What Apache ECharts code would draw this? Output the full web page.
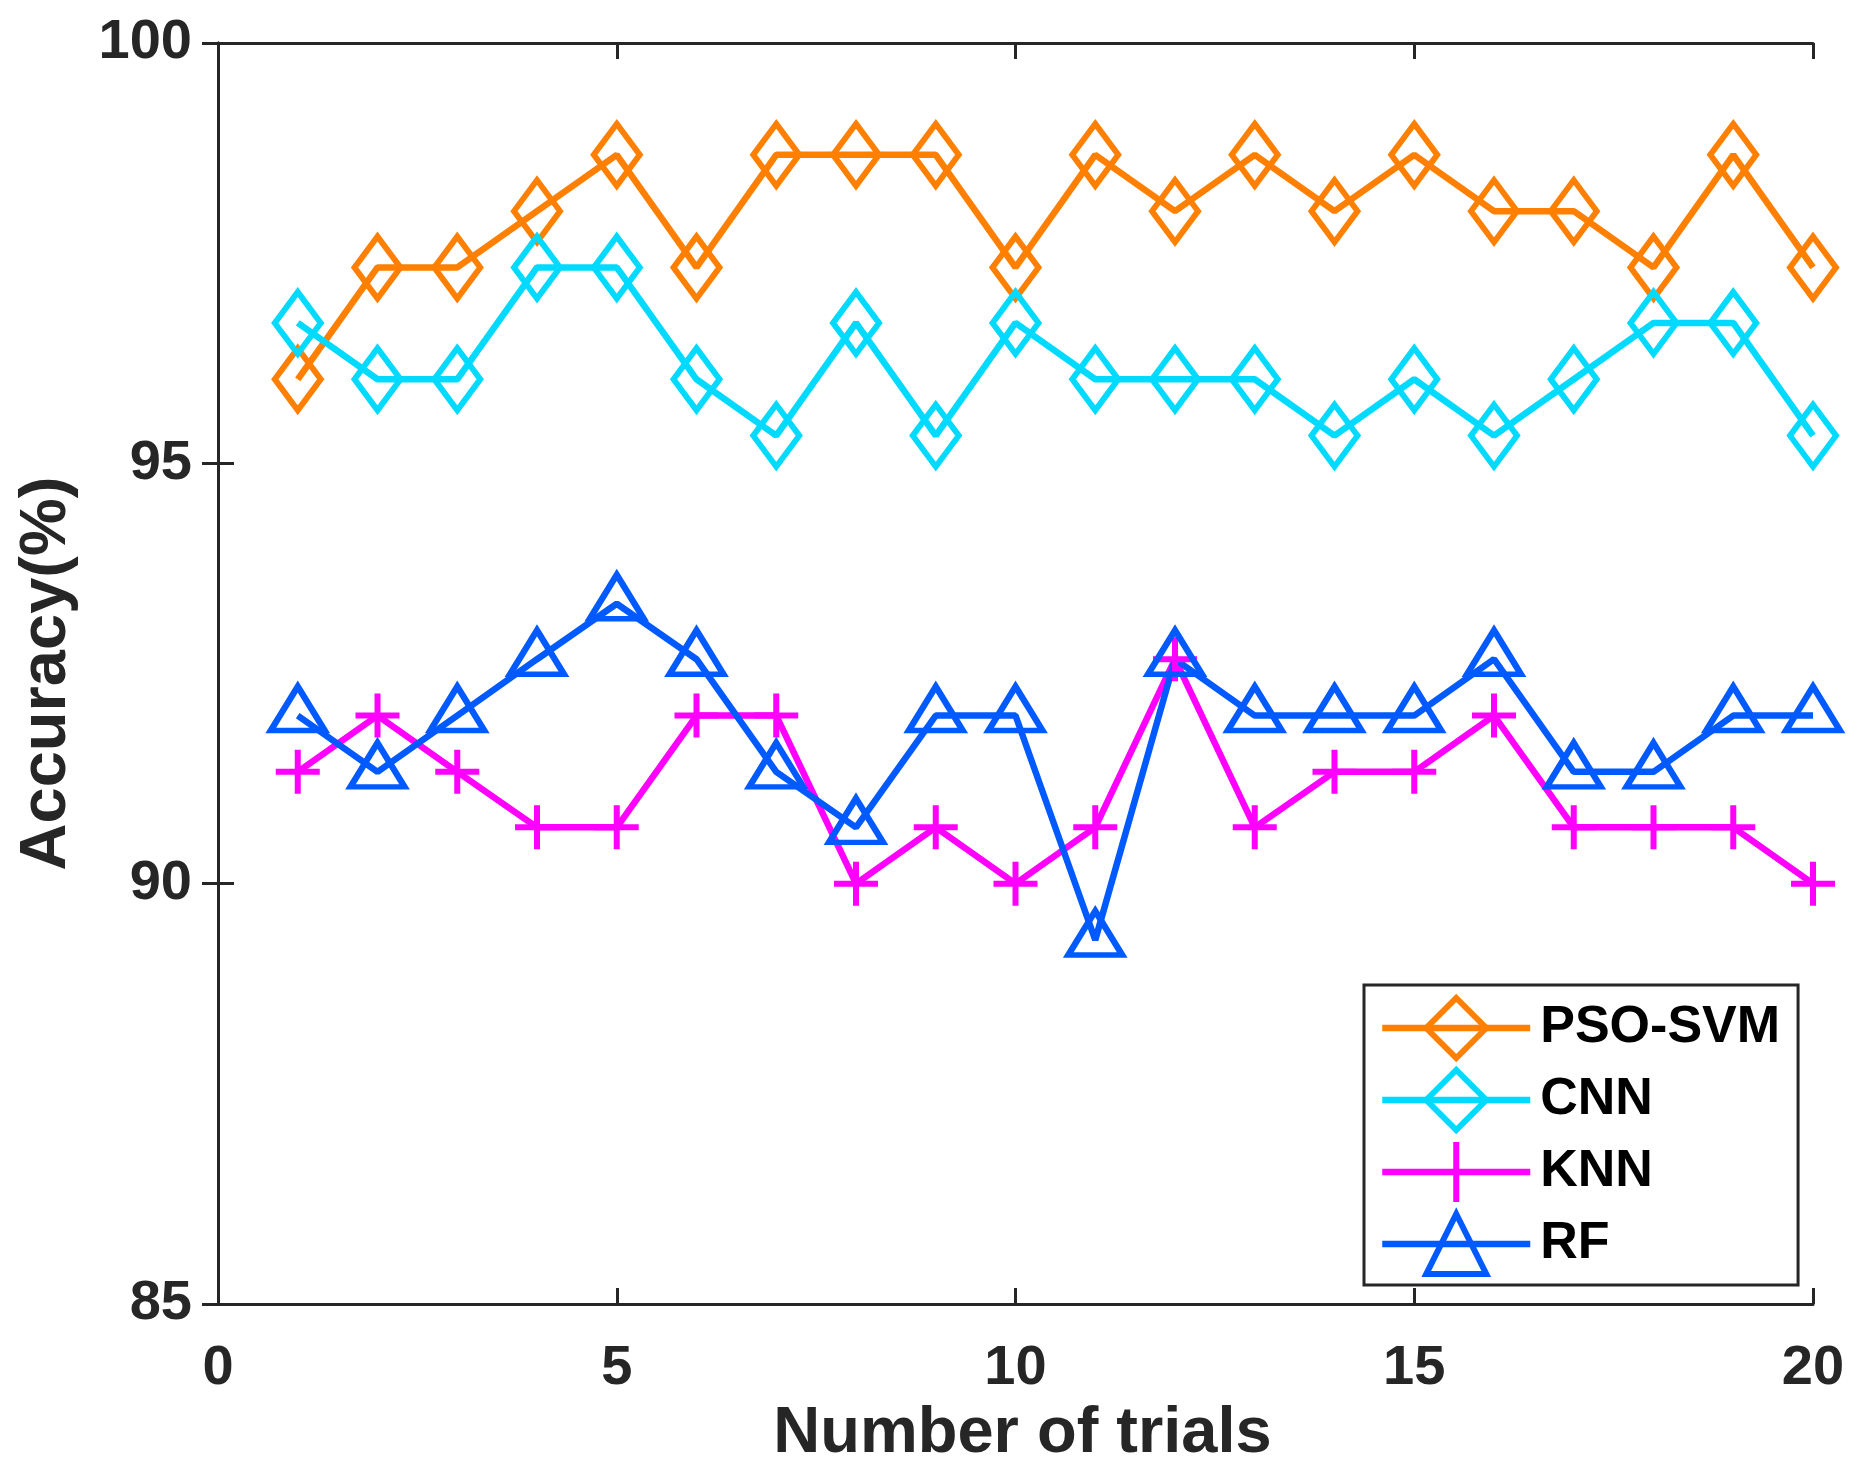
<!DOCTYPE html>
<html><head><meta charset="utf-8">
<script src="https://cdn.jsdelivr.net/npm/echarts@6/dist/echarts.min.js"></script>
<style>html,body{margin:0;padding:0;background:#fff}#c{width:1872px;height:1481px}</style>
</head><body><div id="c"></div>
<script>
const trials = [1,2,3,4,5,6,7,8,9,10,11,12,13,14,15,16,17,18,19,20];
const psoSvm = [96.0, 97.33, 97.33, 98.0, 98.67, 97.33, 98.67, 98.67, 98.67, 97.33, 98.67, 98.0, 98.67, 98.0, 98.67, 98.0, 98.0, 97.33, 98.67, 97.33];
const cnn = [96.67, 96.0, 96.0, 97.33, 97.33, 96.0, 95.33, 96.67, 95.33, 96.67, 96.0, 96.0, 96.0, 95.33, 96.0, 95.33, 96.0, 96.67, 96.67, 95.33];
const knn = [91.33, 92.0, 91.33, 90.67, 90.67, 92.0, 92.0, 90.0, 90.67, 90.0, 90.67, 92.67, 90.67, 91.33, 91.33, 92.0, 90.67, 90.67, 90.67, 90.0];
const rf = [92.0, 91.33, 92.0, 92.67, 93.33, 92.67, 91.33, 90.67, 92.0, 92.0, 89.33, 92.67, 92.0, 92.0, 92.0, 92.67, 91.33, 91.33, 92.0, 92.0];
const seriesNames = ['PSO-SVM', 'CNN', 'KNN', 'RF'];
const xTicks = [0, 5, 10, 15, 20];
const yTicks = [85, 90, 95, 100];

const FONT = "'Liberation Sans', Arial, Helvetica, sans-serif";
const AX = '#262626';
const pair = arr => trials.map((t, i) => [t, arr[i]]);

function mk(name, data, color, symbol, size, offset) {
  return {
    name, type: 'line', data: pair(data), clip: false,
    symbol, symbolSize: size, symbolOffset: offset || [0, 0], showSymbol: true,
    lineStyle: { color, width: 6.5 },
    itemStyle: { color: 'rgba(0,0,0,0)', borderColor: color, borderWidth: 6 },
    emphasis: { disabled: true }
  };
}

const valueAxisCommon = {
  type: 'value',
  axisLine: { show: true, lineStyle: { color: AX, width: 3 } },
  axisTick: { show: true, inside: true, length: 16, lineStyle: { color: AX, width: 3 } },
  splitLine: { show: false }
};

const chart = echarts.init(document.getElementById('c'), null, { renderer: 'canvas' });
chart.setOption({
  animation: false,
  backgroundColor: '#fff',
  grid: { left: 218, right: 59, top: 43, bottom: 177, containLabel: false },
  xAxis: [
    Object.assign({}, valueAxisCommon, {
      min: xTicks[0], max: xTicks[xTicks.length - 1], interval: 5,
      name: 'Number of trials', nameLocation: 'middle', nameGap: 95,
      nameTextStyle: { fontSize: 65, fontWeight: 'bold', color: AX, fontFamily: FONT, padding: [0, 0, 0, 14] },
      axisLabel: { margin: 37, fontSize: 56, fontWeight: 'bold', color: AX, fontFamily: FONT }
    }),
    Object.assign({}, valueAxisCommon, {
      position: 'top', min: 0, max: 20, interval: 5, axisLabel: { show: false }
    })
  ],
  yAxis: [
    Object.assign({}, valueAxisCommon, {
      min: yTicks[0], max: yTicks[yTicks.length - 1], interval: 5,
      name: 'Accuracy(%)', nameLocation: 'middle', nameGap: 138, nameRotate: 90,
      nameTextStyle: { fontSize: 65, fontWeight: 'bold', color: AX, fontFamily: FONT },
      axisLabel: { margin: 26, fontSize: 56, fontWeight: 'bold', color: AX, fontFamily: FONT }
    }),
    Object.assign({}, valueAxisCommon, {
      position: 'right', min: 85, max: 100, interval: 5, axisLabel: { show: false }
    })
  ],
  legend: {
    orient: 'vertical', left: 1364, top: 985,
    padding: [10, 18, 8, 15], itemWidth: 148, itemHeight: 75, itemGap: 6,
    borderColor: AX, borderWidth: 3, backgroundColor: '#fff',
    lineStyle: { width: 6.5 },
    itemStyle: { borderWidth: 6 },
    textStyle: { fontSize: 52, fontWeight: 'bold', color: '#000', fontFamily: FONT, padding: [0, 0, 0, 5] },
    data: seriesNames
  },
  series: [
    mk(seriesNames[0], psoSvm, '#FF8000', 'diamond', [46, 62]),
    mk(seriesNames[1], cnn, '#00DAFF', 'diamond', [46, 62]),
    mk(seriesNames[2], knn, '#FF00FF', 'path://M0,21 L42,21 M21,0 L21,42', [44, 44]),
    mk(seriesNames[3], rf, '#005AFF', 'triangle', [54, 44], [0, -7])
  ]
});
</script></body></html>
